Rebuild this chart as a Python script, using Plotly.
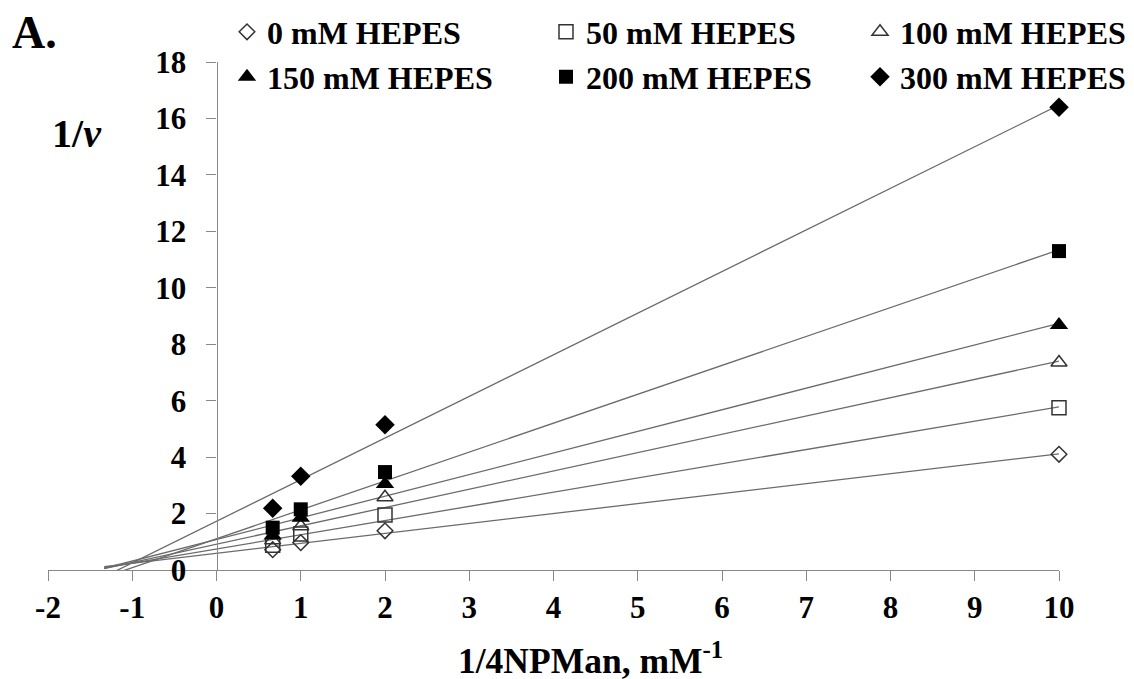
import numpy as np
import plotly.graph_objects as go

# ---- data ----
x_vals = [0.667, 1, 2, 10]
series_names = ["0 mM HEPES", "50 mM HEPES", "100 mM HEPES",
                "150 mM HEPES", "200 mM HEPES", "300 mM HEPES"]
hepes_0 = [0.72, 0.97, 1.39, 4.10]
hepes_50 = [0.88, 1.28, 1.95, 5.75]
hepes_100 = [1.05, 1.55, 2.58, 7.35]
hepes_150 = [1.22, 1.85, 3.05, 8.68]
hepes_200 = [1.50, 2.15, 3.47, 11.30]
hepes_300 = [2.19, 3.32, 5.15, 16.40]
x_ticks = [-2, -1, 0, 1, 2, 3, 4, 5, 6, 7, 8, 9, 10]
x_tick_labels = ["-2", "-1", "0", "1", "2", "3", "4", "5", "6", "7", "8", "9", "10"]
y_ticks = [0, 2, 4, 6, 8, 10, 12, 14, 16, 18]
trend_backward = 2  # trendline extended backward (Excel-style forecast)

all_series = [hepes_0, hepes_50, hepes_100, hepes_150, hepes_200, hepes_300]

# ---- styles / layout geometry ----
W, H = 1134, 679
OFF = 8                      # page body margin in the browser
PL, PT, PW, PH = 48, 62, 1011, 508   # plot area in screen pixels
L, T = PL - OFF, PT - OFF
R, B = W - L - PW, H - T - PH
FONT = "Liberation Serif"

def px(xs):
    """screen x pixel -> paper fraction"""
    return (xs - PL) / PW

def py(ys):
    """screen y pixel -> paper fraction"""
    return (PT + PH - ys) / PH

styles = [
    dict(symbol="diamond-open", size=12, color="#333333", line=dict(width=1.5, color="#333333")),
    dict(symbol="square-open", size=14, color="#333333", line=dict(width=1.5, color="#333333")),
    dict(symbol="triangle-up-open", size=14, color="#333333", line=dict(width=1.5, color="#333333")),
    dict(symbol="triangle-up", size=16, color="#000000", line=dict(width=0)),
    dict(symbol="square", size=14, color="#000000", line=dict(width=0)),
    dict(symbol="diamond", size=15, color="#000000", line=dict(width=0)),
]
# legend marker centres (screen pixels): 2 rows x 3 columns
legend_pos = [(247, 32), (566, 32), (880, 32), (247, 77), (566, 77), (880, 77)]
legend_ids = ["legend", "legend2", "legend3", "legend4", "legend5", "legend6"]

fig = go.Figure()

# trendlines (least-squares fits of each series)
xs_arr = np.array(x_vals)
for ys in all_series:
    slope, intercept = np.polyfit(xs_arr, np.array(ys), 1)
    xl = np.array([xs_arr.min() - trend_backward, xs_arr.max()])
    fig.add_trace(go.Scatter(x=xl, y=slope * xl + intercept, mode="lines",
                             line=dict(color="#6b6b6b", width=1.3),
                             showlegend=False, hoverinfo="skip"))

for name, ys, st, lg in zip(series_names, all_series, styles, legend_ids):
    fig.add_trace(go.Scatter(x=x_vals, y=ys, mode="markers", name=name,
                             marker=st, cliponaxis=False, legend=lg))

axis_font = dict(family=FONT, size=31, color="black", weight="bold")
fig.update_xaxes(range=[-2, 10], tickvals=x_ticks, ticktext=x_tick_labels,
                 ticks="outside", ticklen=10,
                 tickcolor="#888888", tickwidth=1.3, showline=True,
                 linecolor="#888888", linewidth=1.3, showgrid=False, zeroline=False,
                 tickfont=axis_font, ticklabelstandoff=0, automargin=False)
fig.update_yaxes(range=[0, 18], tickvals=y_ticks, ticks="outside", ticklen=10,
                 tickcolor="#888888", tickwidth=1.3, showline=True,
                 linecolor="#888888", linewidth=1.3, showgrid=False, zeroline=False,
                 tickfont=axis_font, anchor="free", position=1 / 6,
                 ticklabelstandoff=14, automargin=False)

leg_font = dict(family=FONT, size=32, color="black", weight="bold")
legends = {}
for lid, (mx, my) in zip(legend_ids, legend_pos):
    legends[lid] = dict(orientation="h", xanchor="left", yanchor="middle",
                        x=px(mx - 20), y=py(my), bgcolor="rgba(0,0,0,0)",
                        font=leg_font, itemclick=False, borderwidth=0)

def label(text, xs, ys, size):
    return dict(text=text, x=px(xs), y=py(ys), xref="paper", yref="paper",
                xanchor="center", yanchor="middle", showarrow=False,
                font=dict(family=FONT, size=size, color="black"))

fig.update_layout(
    width=W, height=H,
    margin=dict(l=L, r=R, t=T, b=B, autoexpand=False),
    paper_bgcolor="white", plot_bgcolor="white",
    annotations=[
        label("<b>A.</b>", 34, 32, 46),
        label("<b>1/<i>v</i></b>", 77, 134, 40),
        label("<b>1/4NPMan, mM<sup>-1</sup></b>", 590, 658, 35.5),
    ],
    **legends,
)

fig.write_html("out.html")
